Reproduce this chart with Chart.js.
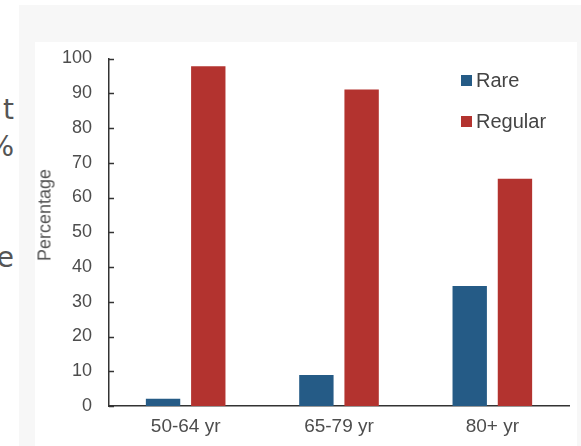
<!DOCTYPE html>
<html>
<head>
<meta charset="utf-8">
<script src="https://cdn.jsdelivr.net/npm/chart.js@4.4.0/dist/chart.umd.min.js"></script>
<style>
  html, body { margin: 0; padding: 0; background: #fff; }
  body { width: 581px; height: 446px; position: relative; overflow: hidden; font-family: "Liberation Sans", Arial, sans-serif; }
  #panel { position: absolute; left: 19px; top: 5px; width: 562px; height: 441px; background: #f7f7f7; }
  #card { position: absolute; left: 35px; top: 42px; width: 542px; height: 404px; background: #fff; }
  #side { position: absolute; left: 0; top: 0; width: 15px; height: 446px; overflow: hidden; }
  #side span { position: absolute; right: 1px; font: 28px "DejaVu Sans", sans-serif; color: #555; line-height: 1; }
  #ytitle { position: absolute; left: 45px; top: 215px; transform: translate(-50%, -50%) rotate(-90deg); font: 18px "Liberation Sans", Arial, sans-serif; color: #555; white-space: nowrap; }
  #legend { position: absolute; left: 461px; top: 68px; }
  .item { display: flex; align-items: center; height: 24px; margin-bottom: 17px; font: 20px "Liberation Sans", Arial, sans-serif; color: #444; }
  .box { width: 11px; height: 11px; margin-right: 4px; }
</style>
</head>
<body>
<div id="panel"></div>
<div id="side"><span style="top:96px">t</span><span style="top:133px">%</span><span style="top:244px">e</span></div>
<div id="card"><canvas id="chart" width="542" height="404"></canvas></div>
<div id="ytitle">Percentage</div>
<div id="legend"></div>
<script>
const categories = ['50-64 yr', '65-79 yr', '80+ yr'];
const rare = [2.1, 8.9, 34.5];
const regular = [97.8, 91.1, 65.4];
const seriesNames = ['Rare', 'Regular'];
const seriesColors = ['#255b86', '#b3332f'];
const yTicks = [0, 10, 20, 30, 40, 50, 60, 70, 80, 90, 100];

// tick marks point into the plot, so draw them ourselves
const innerTicks = {
  id: 'innerTicks',
  afterDraw(chart) {
    const ctx = chart.ctx;
    const y = chart.scales.y;
    const left = chart.chartArea.left;
    ctx.save();
    ctx.strokeStyle = '#333';
    ctx.lineWidth = 1.5;
    yTicks.forEach(v => {
      const py = Math.round(y.getPixelForValue(v)) + 0.5;
      ctx.beginPath();
      ctx.moveTo(left, py);
      ctx.lineTo(left + 5, py);
      ctx.stroke();
    });
    ctx.restore();
  }
};

new Chart(document.getElementById('chart'), {
  type: 'bar',
  data: {
    labels: categories,
    datasets: [
      { label: seriesNames[0], data: rare, backgroundColor: seriesColors[0] },
      { label: seriesNames[1], data: regular, backgroundColor: seriesColors[1] }
    ]
  },
  options: {
    responsive: false,
    animation: false,
    categoryPercentage: 0.59,
    barPercentage: 0.76,
    layout: { padding: { left: 0, right: 8, top: 16.5, bottom: 0 } },
    plugins: { legend: { display: false }, tooltip: { enabled: false } },
    scales: {
      x: {
        grid: { display: false, drawTicks: false },
        border: { color: '#333', width: 1.5 },
        ticks: { color: '#4d4d4d', font: { family: 'Liberation Sans', size: 19 }, padding: 9 },
        afterFit(s) { s.height = 40; }
      },
      y: {
        min: 0,
        max: 100,
        afterBuildTicks(s) { s.ticks = yTicks.map(v => ({ value: v })); },
        grid: { display: false, drawTicks: false },
        border: { color: '#333', width: 1.5 },
        ticks: { color: '#4d4d4d', font: { family: 'Liberation Sans', size: 18 }, padding: 17 },
        afterFit(s) { s.width = 74; s.paddingTop = 8; s.paddingBottom = 8; }
      }
    }
  },
  plugins: [innerTicks]
});

const legend = document.getElementById('legend');
seriesNames.forEach((name, i) => {
  const item = document.createElement('div');
  item.className = 'item';
  item.innerHTML = '<span class="box" style="background:' + seriesColors[i] + '"></span>' + name;
  legend.appendChild(item);
});
</script>
</body>
</html>
